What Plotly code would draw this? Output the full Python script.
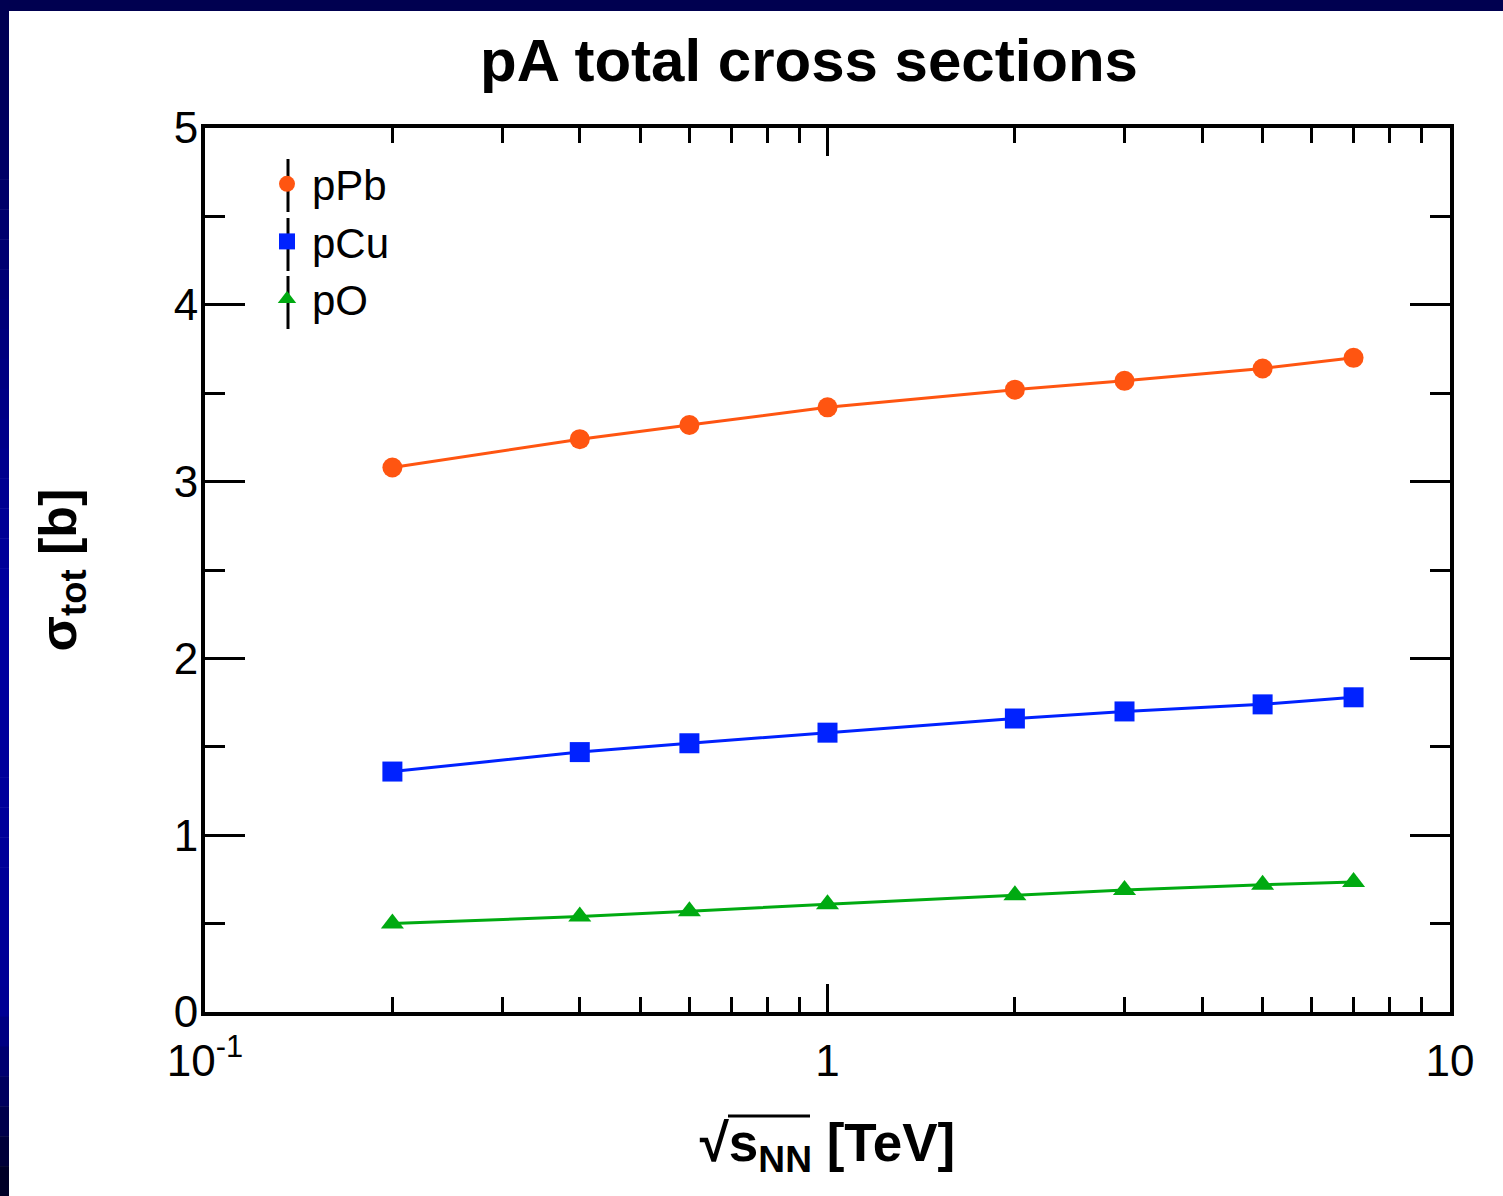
import plotly.graph_objects as go

# ---- data ----
energies = [0.2, 0.4, 0.6, 1.0, 2.0, 3.0, 5.0, 7.0]   # sqrt(s_NN) [TeV]
sigma_pPb = [3.08, 3.24, 3.32, 3.42, 3.52, 3.57, 3.64, 3.70]
sigma_pCu = [1.36, 1.47, 1.52, 1.58, 1.66, 1.70, 1.74, 1.78]
sigma_pO = [0.50, 0.54, 0.57, 0.61, 0.66, 0.69, 0.72, 0.735]
series_names = ["pPb", "pCu", "pO"]
x_tickvals = [0.1, 1, 10]
x_ticktext = ["10<sup>-1</sup>", "1", "10"]
x_minor = [0.2, 0.3, 0.4, 0.5, 0.6, 0.7, 0.8, 0.9, 2, 3, 4, 5, 6, 7, 8, 9]

colors = ["#FF5511", "#0022FF", "#00AA11"]
symbols = ["circle", "square", "triangle-up"]
msizes = [20, 20, 20]

W, H = 1503, 1196
L, R, T, B = 205, 53, 128, 184
PW, PH = W - L - R, H - T - B
FONT = "Liberation Sans, Arial, sans-serif"


def px_x(p):
    return (p - L) / PW


def px_y(p):
    return (H - B - p) / PH


fig = go.Figure()
all_series = [sigma_pPb, sigma_pCu, sigma_pO]
for name, ys, c, s, ms in zip(series_names, all_series, colors, symbols, msizes):
    fig.add_trace(go.Scatter(x=energies, y=ys, mode="lines", line=dict(color=c, width=3),
                             showlegend=False, hoverinfo="skip"))
    fig.add_trace(go.Scatter(x=energies, y=ys, mode="markers", name=name,
                             marker=dict(symbol=s, size=ms, color=c, line=dict(width=0))))

shapes = []
# decorative slide frame: top bar and left gradient bar
shapes.append(dict(type="rect", xref="paper", yref="paper",
                   x0=px_x(0), x1=px_x(W), y0=px_y(11), y1=px_y(0),
                   fillcolor="#000050", line=dict(width=0), layer="above"))
nseg = 40
for i in range(nseg):
    y0p = i * H / nseg
    y1p = (i + 1) * H / nseg
    ym = (y0p + y1p) / 2
    if ym < 600:
        b = 80 + (160 - 80) * ym / 600
    elif ym < 1000:
        b = 160 - 10 * (ym - 600) / 400
    else:
        b = 150 - 120 * (ym - 1000) / 196
    shapes.append(dict(type="rect", xref="paper", yref="paper",
                       x0=px_x(0), x1=px_x(9), y0=px_y(y1p + 0.5), y1=px_y(y0p),
                       fillcolor="rgb(0,0,%d)" % int(b), line=dict(width=0), layer="above"))
# legend error-bar style vertical lines
LEGX = 288
for yc in [186, 245, 303]:
    shapes.append(dict(type="line", xref="paper", yref="paper",
                       x0=px_x(LEGX), x1=px_x(LEGX), y0=px_y(yc - 27), y1=px_y(yc + 26),
                       line=dict(color="black", width=3), layer="above"))
# overbar of the square-root sign in x-axis title
shapes.append(dict(type="line", xref="paper", yref="paper",
                   x0=px_x(728), x1=px_x(810), y0=px_y(1116), y1=px_y(1116),
                   line=dict(color="black", width=3), layer="above"))

fig.update_layout(
    width=W, height=H,
    margin=dict(l=L, r=R, t=T, b=B, pad=0),
    paper_bgcolor="white", plot_bgcolor="white",
    font=dict(family=FONT, color="black"),
    title=dict(text="<b>pA total cross sections</b>", x=809 / W,
               xanchor="center", y=1 - 60 / H, yanchor="middle", yref="container",
               font=dict(size=60, family=FONT, color="black")),
    showlegend=True,
    legend=dict(x=px_x(262), y=px_y(150), xanchor="left", yanchor="top",
                bgcolor="rgba(0,0,0,0)", borderwidth=0,
                font=dict(size=42, family=FONT, color="black"),
                tracegroupgap=0, itemsizing="trace", itemwidth=40),
    shapes=shapes,
)

fig.update_xaxes(
    type="log", range=[-1, 1],
    tickmode="array", tickvals=x_tickvals, ticktext=x_ticktext,
    ticks="inside", ticklen=28, tickwidth=3, tickcolor="black",
    minor=dict(tickvals=x_minor, ticks="inside", ticklen=15, tickwidth=3, tickcolor="black"),
    showline=True, linewidth=4, linecolor="black", mirror="allticks",
    showgrid=False, zeroline=False,
    tickfont=dict(size=44, family=FONT, color="black"),
    ticklabelstandoff=7,
    title=dict(text="<b>√s<sub>NN</sub> [TeV]</b>", standoff=41,
               font=dict(size=53, family=FONT, color="black")),
)
fig.update_yaxes(
    range=[0, 5], tickmode="linear", tick0=0, dtick=1,
    ticks="inside", ticklen=40, tickwidth=3, tickcolor="black",
    minor=dict(dtick=0.5, ticks="inside", ticklen=20, tickwidth=3, tickcolor="black"),
    showline=True, linewidth=4, linecolor="black", mirror="allticks",
    showgrid=False, zeroline=False,
    tickfont=dict(size=44, family=FONT, color="black"),
    ticklabelstandoff=-6,
    title=dict(text="<b>σ<sub>tot</sub> [b]</b>", standoff=82,
               font=dict(size=52, family=FONT, color="black")),
)

fig.write_html("out.html")
